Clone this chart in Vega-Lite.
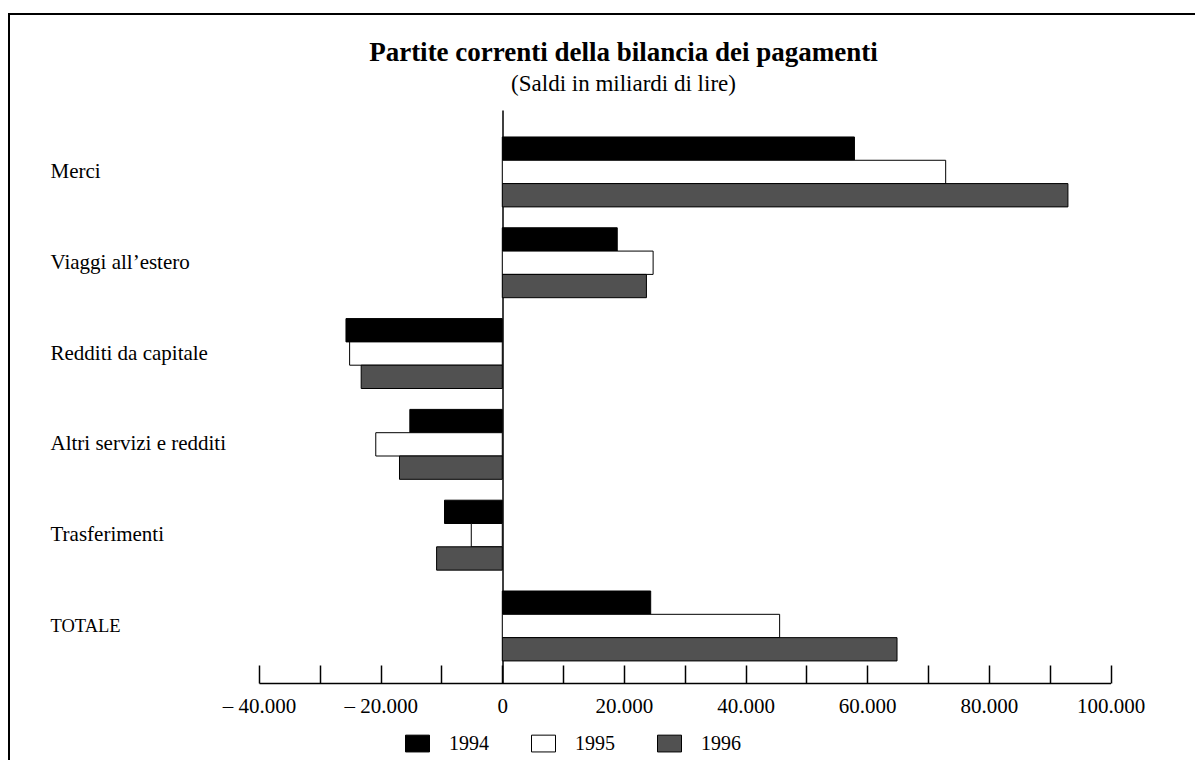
{
  "$schema": "https://vega.github.io/schema/vega-lite/v6.json",
  "width": 1195,
  "height": 760,
  "autosize": {"type": "none"},
  "padding": {"left": 9, "top": 14, "right": 0, "bottom": 0},
  "background": "white",
  "config": {
    "font": "Liberation Serif",
    "view": {"stroke": "black", "strokeWidth": 2}
  },
  "title": {
    "text": "Partite correnti della bilancia dei pagamenti",
    "subtitle": "(Saldi in miliardi di lire)",
    "font": "Liberation Serif",
    "fontSize": 27,
    "fontWeight": "bold",
    "color": "black",
    "subtitleFont": "Liberation Serif",
    "subtitleFontSize": 23,
    "subtitleColor": "black",
    "subtitlePadding": 6,
    "anchor": "middle",
    "frame": "group",
    "offset": -83,
    "dx": 17
  },
  "data": {
    "values": [
      {"voce": "Merci", "anno": "1994", "valore": 57900},
      {"voce": "Merci", "anno": "1995", "valore": 72900},
      {"voce": "Merci", "anno": "1996", "valore": 93000},
      {"voce": "Viaggi all’estero", "anno": "1994", "valore": 18900},
      {"voce": "Viaggi all’estero", "anno": "1995", "valore": 24800},
      {"voce": "Viaggi all’estero", "anno": "1996", "valore": 23700},
      {"voce": "Redditi da capitale", "anno": "1994", "valore": -25700},
      {"voce": "Redditi da capitale", "anno": "1995", "valore": -25100},
      {"voce": "Redditi da capitale", "anno": "1996", "valore": -23200},
      {"voce": "Altri servizi e redditi", "anno": "1994", "valore": -15200},
      {"voce": "Altri servizi e redditi", "anno": "1995", "valore": -20800},
      {"voce": "Altri servizi e redditi", "anno": "1996", "valore": -16900},
      {"voce": "Trasferimenti", "anno": "1994", "valore": -9500},
      {"voce": "Trasferimenti", "anno": "1995", "valore": -5100},
      {"voce": "Trasferimenti", "anno": "1996", "valore": -10800},
      {"voce": "TOTALE", "anno": "1994", "valore": 24400},
      {"voce": "TOTALE", "anno": "1995", "valore": 45600},
      {"voce": "TOTALE", "anno": "1996", "valore": 64900}
    ]
  },
  "layer": [
    {
      "mark": {"type": "bar", "stroke": "black", "strokeWidth": 1},
      "encoding": {
        "y": {
          "field": "voce",
          "type": "nominal",
          "sort": ["Merci", "Viaggi all’estero", "Redditi da capitale", "Altri servizi e redditi", "Trasferimenti", "TOTALE"],
          "scale": {"range": [96, 669], "paddingInner": 0.23, "paddingOuter": 0.27, "align": 0.55},
          "axis": {
            "orient": "left",
            "title": null,
            "domain": false,
            "ticks": false,
            "labelAlign": "left",
            "labelBaseline": "middle",
            "labelPadding": -41,
            "labelFontSize": {"condition": {"test": "datum.value == 'TOTALE'", "value": 18.5}, "value": 21},
            "labelColor": "black",
            "labelLimit": 0,
            "grid": false
          }
        },
        "yOffset": {
          "field": "anno",
          "type": "nominal",
          "scale": {"paddingInner": 0, "paddingOuter": 0}
        },
        "x": {
          "field": "valore",
          "type": "quantitative",
          "scale": {"domain": [-40000, 100000], "range": [250, 1101.5], "nice": false},
          "axis": {
            "orient": "bottom",
            "offset": -91,
            "title": null,
            "grid": false,
            "values": [-40000, -30000, -20000, -10000, 0, 10000, 20000, 30000, 40000, 50000, 60000, 70000, 80000, 90000, 100000],
            "labelExpr": "datum.value % 20000 != 0 ? '' : (datum.value < 0 ? '– ' : '') + replace(format(abs(datum.value), ','), ',', '.')",
            "tickSize": -18,
            "tickColor": "black",
            "tickWidth": 1.5,
            "domainColor": "black",
            "domainWidth": 1.5,
            "labelPadding": 30,
            "labelFontSize": 21,
            "labelColor": "black",
            "labelFlush": false,
            "labelOverlap": false
          }
        },
        "fill": {
          "field": "anno",
          "type": "nominal",
          "scale": {"domain": ["1994", "1995", "1996"], "range": ["#000000", "#ffffff", "#515151"]},
          "legend": {
            "orient": "none",
            "legendX": 396,
            "legendY": 717,
            "direction": "horizontal",
            "title": null,
            "symbolType": "M-1,-0.7H1V0.7H-1Z",
            "symbolSize": 576,
            "symbolStrokeColor": "black",
            "symbolStrokeWidth": 1,
            "symbolOpacity": 1,
            "labelFontSize": 20,
            "labelColor": "black",
            "labelOffset": 19,
            "columnPadding": 40,
            "padding": 0
          }
        }
      }
    },
    {
      "mark": {"type": "tick", "opacity": 0},
      "encoding": {
        "y": {
          "field": "voce",
          "type": "nominal",
          "sort": ["Merci", "Viaggi all’estero", "Redditi da capitale", "Altri servizi e redditi", "Trasferimenti", "TOTALE"],
          "axis": {
            "orient": "right",
            "offset": -701.5,
            "title": null,
            "domain": true,
            "domainColor": "black",
            "domainWidth": 1.5,
            "ticks": false,
            "labels": false,
            "grid": false
          }
        },
        "x": {"field": "valore", "type": "quantitative"}
      }
    }
  ],
  "resolve": {"axis": {"y": "independent"}}
}
